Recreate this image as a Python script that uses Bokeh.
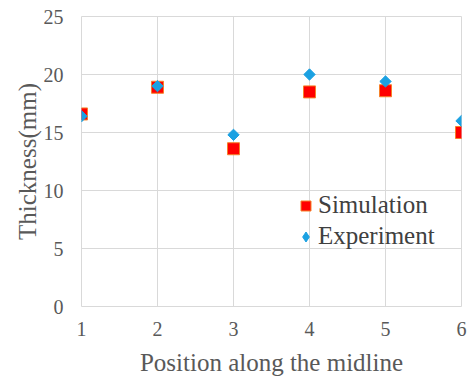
import math
from bokeh.plotting import figure
from bokeh.models import Range1d, FixedTicker, Legend, LegendItem
from bokeh.embed import file_html
from bokeh.resources import INLINE

positions = [1, 2, 3, 4, 5, 6]
simulation = [16.6, 18.9, 13.6, 18.5, 18.6, 15.0]
experiment = [16.4, 19.0, 14.8, 20.0, 19.4, 16.0]
x_ticks = [1, 2, 3, 4, 5, 6]
y_ticks = [0, 5, 10, 15, 20, 25]

FONT = "Liberation Serif"
GRID = "#d9d9d9"

p = figure(width=468, height=378, output_backend="svg", toolbar_location=None,
           x_range=Range1d(1, 6), y_range=Range1d(0, 25),
           min_border_left=81, min_border_right=7, min_border_top=16, min_border_bottom=71)

p.outline_line_color = GRID
p.xgrid.grid_line_color = GRID
p.ygrid.grid_line_color = GRID
p.xgrid.grid_line_width = 1
p.ygrid.grid_line_width = 1

for ax in (p.xaxis[0], p.yaxis[0]):
    ax.axis_line_color = None
    ax.major_tick_line_color = None
    ax.minor_tick_line_color = None
    ax.major_tick_out = 0
    ax.major_tick_in = 0
    ax.major_label_text_font = FONT
    ax.major_label_text_font_size = "20px"
    ax.major_label_text_color = "#595959"
    ax.axis_label_text_font = FONT
    ax.axis_label_text_font_size = "25px"
    ax.axis_label_text_font_style = "normal"
    ax.axis_label_text_color = "#595959"

p.xaxis.ticker = FixedTicker(ticks=x_ticks)
p.yaxis.ticker = FixedTicker(ticks=y_ticks)
p.xaxis.major_label_standoff = 15
p.yaxis.major_label_standoff = 18
p.xaxis.axis_label = "Position along the midline"
p.yaxis.axis_label = "Thickness(mm)"
p.xaxis.axis_label_standoff = 10
p.yaxis.axis_label_standoff = 0

r_sim = p.scatter(positions, simulation, marker="square", size=12,
                  fill_color="#ff0000", line_color="#f5822a", line_width=1)
r_exp = p.scatter(positions, experiment, marker="square", size=8, angle=math.pi / 4,
                  fill_color="#1ba1e2", line_color="#1ba1e2")

# legend-only glyph for the diamond shape (no visible point)
r_exp_leg = p.scatter([float("nan")], [float("nan")], marker="diamond", size=10,
                      fill_color="#1ba1e2", line_color="#1ba1e2")

legend = Legend(items=[LegendItem(label="Simulation", renderers=[r_sim]),
                       LegendItem(label="Experiment", renderers=[r_exp_leg])],
                location=(212, 56), background_fill_alpha=0, border_line_color=None,
                label_text_font=FONT, label_text_font_size="25px",
                label_text_color="#404040", glyph_width=25, glyph_height=25,
                label_standoff=0, spacing=3, padding=0, margin=0,
                label_height=25)
p.add_layout(legend, "center")

open("out.html", "w").write(file_html(p, INLINE))
